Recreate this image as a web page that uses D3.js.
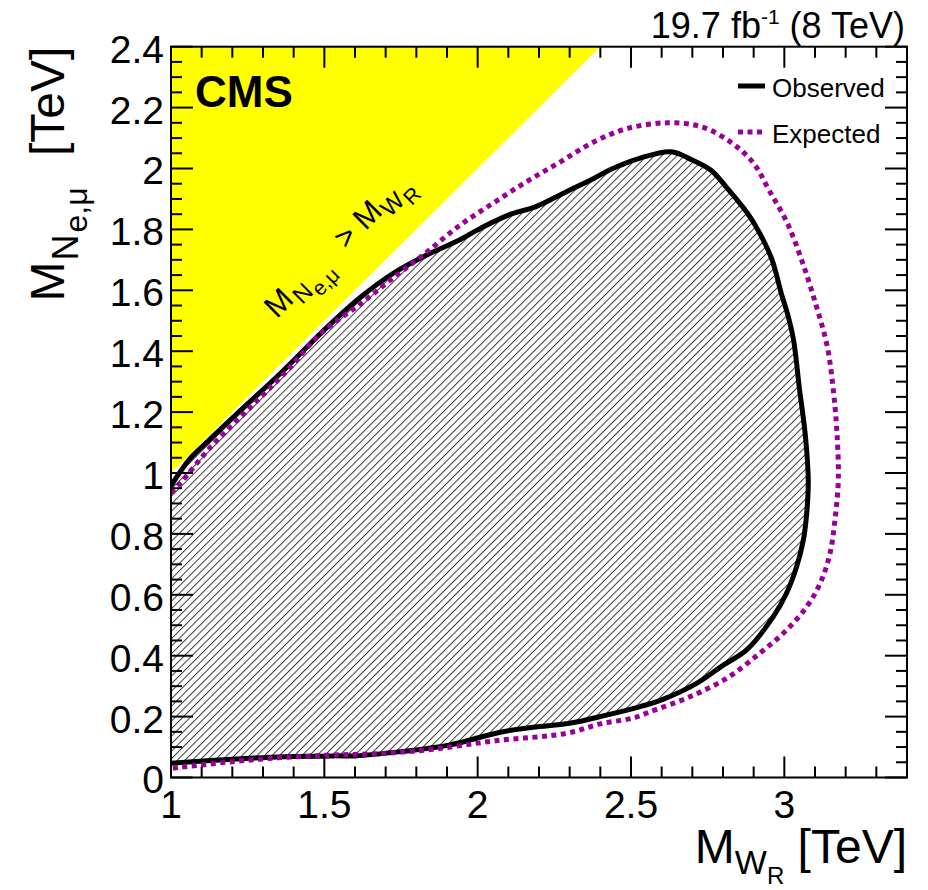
<!DOCTYPE html>
<html>
<head>
<meta charset="utf-8">
<script src="https://cdn.jsdelivr.net/npm/d3@7"></script>
<style>
  html, body { margin: 0; padding: 0; background: #fff; }
  svg { display: block; font-family: "Liberation Sans", Arial, Helvetica, sans-serif; }
</style>
</head>
<body>
<svg id="chart" width="928" height="890"></svg>
<script>
// --- data (TeV) ---
const xDomain = [1, 3.4];
const yDomain = [0, 2.4];
const xTickVals = [1, 1.5, 2, 2.5, 3];
const xTickLabels = ["1", "1.5", "2", "2.5", "3"];
const yTickVals = [0, 0.2, 0.4, 0.6, 0.8, 1, 1.2, 1.4, 1.6, 1.8, 2, 2.2, 2.4];
const yTickLabels = ["0", "0.2", "0.4", "0.6", "0.8", "1", "1.2", "1.4", "1.6", "1.8", "2", "2.2", "2.4"];

// kinematically forbidden region M_N > M_WR
const forbidden = [[1, 1], [2.4, 2.4], [1, 2.4]];

const observed = [
  [1.0, 0.958], [1.06, 1.045], [1.12, 1.104], [1.24, 1.218], [1.36, 1.33], [1.51, 1.48],
  [1.62, 1.579], [1.725, 1.656], [1.834, 1.716], [1.93, 1.76], [2.01, 1.804], [2.10, 1.847],
  [2.19, 1.875], [2.29, 1.924], [2.38, 1.968], [2.43, 1.995], [2.53, 2.034], [2.63, 2.055],
  [2.70, 2.028], [2.76, 1.995], [2.81, 1.940], [2.88, 1.853], [2.92, 1.787], [2.96, 1.700],
  [2.99, 1.590], [3.01, 1.524], [3.03, 1.437], [3.05, 1.27], [3.06, 1.196], [3.07, 1.108],
  [3.078, 0.977], [3.073, 0.868], [3.062, 0.780], [3.040, 0.692], [3.007, 0.605], [2.964, 0.528],
  [2.877, 0.419], [2.801, 0.369], [2.714, 0.309], [2.60, 0.255], [2.53, 0.233], [2.42, 0.205],
  [2.30, 0.178], [2.18, 0.165], [2.07, 0.148], [1.91, 0.107], [1.75, 0.085], [1.60, 0.071],
  [1.53, 0.071], [1.37, 0.068], [1.20, 0.060], [1.0, 0.047]
];

const expected = [
  [1.0, 0.935], [1.03, 0.966], [1.13, 1.086], [1.25, 1.207], [1.37, 1.327], [1.49, 1.459],
  [1.62, 1.557], [1.73, 1.645], [1.83, 1.722], [1.94, 1.812], [2.05, 1.886], [2.16, 1.957],
  [2.27, 2.022], [2.38, 2.088], [2.49, 2.132], [2.62, 2.150], [2.73, 2.137], [2.83, 2.083],
  [2.90, 2.017], [2.95, 1.929], [3.01, 1.820], [3.06, 1.689], [3.105, 1.546], [3.14, 1.415],
  [3.16, 1.27], [3.171, 1.141], [3.176, 0.977], [3.165, 0.846], [3.149, 0.736], [3.117, 0.638],
  [3.073, 0.561], [3.007, 0.484], [2.920, 0.408], [2.812, 0.326], [2.692, 0.265], [2.56, 0.215],
  [2.51, 0.196], [2.40, 0.176], [2.29, 0.145], [2.06, 0.121], [1.855, 0.093], [1.69, 0.079],
  [1.53, 0.074], [1.37, 0.066], [1.20, 0.052], [1.0, 0.030]
];

const W = 928, H = 890;
const m = { left: 171, right: 907, top: 46.7, bottom: 777.5 };
const purple = "#990099";

const svg = d3.select("#chart");
const x = d3.scaleLinear().domain(xDomain).range([m.left, m.right]);
const y = d3.scaleLinear().domain(yDomain).range([m.bottom, m.top]);

const defs = svg.append("defs");
defs.append("clipPath").attr("id", "frame-clip")
  .append("rect").attr("x", m.left).attr("y", m.top)
  .attr("width", m.right - m.left).attr("height", m.bottom - m.top);
defs.append("pattern").attr("id", "hatch").attr("patternUnits", "userSpaceOnUse")
  .attr("width", 5.3).attr("height", 10).attr("patternTransform", "rotate(45)")
  .append("line").attr("x1", 0.5).attr("x2", 0.5).attr("y1", 0).attr("y2", 10)
  .attr("stroke", "#000").attr("stroke-width", 0.8);

const plot = svg.append("g").attr("clip-path", "url(#frame-clip)");
const line = d3.line().x(d => x(d[0])).y(d => y(d[1]));
const smooth = d3.line().x(d => x(d[0])).y(d => y(d[1])).curve(d3.curveCatmullRom.alpha(0.5));

// yellow triangle
plot.append("path").datum(forbidden).attr("d", d => line(d) + "Z").attr("fill", "#ffff00");

// excluded region (hatched)
plot.append("path").datum(observed).attr("d", d => smooth(d) + "Z").attr("fill", "url(#hatch)");

plot.append("path").datum(observed).attr("d", smooth)
  .attr("fill", "none").attr("stroke", "#000").attr("stroke-width", 5).attr("stroke-linejoin", "round");

plot.append("path").datum(expected).attr("d", smooth)
  .attr("fill", "none").attr("stroke", purple).attr("stroke-width", 5).attr("stroke-dasharray", "5,4.5");

// label along the diagonal
const lab = svg.append("text")
  .attr("transform", `translate(${x(1.345)},${y(1.505)}) rotate(-44.8)`)
  .attr("font-size", 31).attr("fill", "#000");
lab.append("tspan").text("M");
lab.append("tspan").attr("font-size", 24).attr("dx", 2).attr("dy", 8).text("N");
lab.append("tspan").attr("font-size", 21).attr("dx", 1).attr("dy", 7).text("e,μ");
lab.append("tspan").attr("dx", 22).attr("dy", -15).text(">");
lab.append("tspan").attr("dx", 9).text("M");
lab.append("tspan").attr("font-size", 24).attr("dx", 1).attr("dy", 8).text("W");
lab.append("tspan").attr("font-size", 21).attr("dx", 1).attr("dy", 7).text("R");

// CMS
svg.append("text").attr("x", 195).attr("y", 107).attr("font-size", 44)
  .attr("font-weight", "bold").text("CMS");

// frame
svg.append("rect").attr("x", m.left).attr("y", m.top)
  .attr("width", m.right - m.left).attr("height", m.bottom - m.top)
  .attr("fill", "none").attr("stroke", "#000").attr("stroke-width", 2);

// ticks: major and minor, on all four sides
const xMinor = d3.range(10, 35).map(v => v / 10).filter(v => !xTickVals.includes(v));
const yMinor = d3.range(0, 49).map(v => v / 20).filter(v => !yTickVals.some(t => Math.abs(t - v) < 1e-9));
const ticks = svg.append("g").attr("stroke", "#000").attr("stroke-width", 2);
[[xTickVals, 21], [xMinor, 11]].forEach(([vals, len]) => {
  ticks.selectAll(null).data(vals).join("line")
    .attr("x1", d => x(d)).attr("x2", d => x(d)).attr("y1", m.bottom).attr("y2", m.bottom - len);
  ticks.selectAll(null).data(vals).join("line")
    .attr("x1", d => x(d)).attr("x2", d => x(d)).attr("y1", m.top).attr("y2", m.top + len);
});
[[yTickVals, 22], [yMinor, 11]].forEach(([vals, len]) => {
  ticks.selectAll(null).data(vals).join("line")
    .attr("y1", d => y(d)).attr("y2", d => y(d)).attr("x1", m.left).attr("x2", m.left + len);
  ticks.selectAll(null).data(vals).join("line")
    .attr("y1", d => y(d)).attr("y2", d => y(d)).attr("x1", m.right).attr("x2", m.right - len);
});

// tick labels
svg.append("g").selectAll("text").data(xTickVals).join("text")
  .attr("x", d => x(d)).attr("y", 818).attr("text-anchor", "middle").attr("font-size", 39)
  .text((d, i) => xTickLabels[i]);
svg.append("g").selectAll("text").data(yTickVals).join("text")
  .attr("x", 164).attr("y", d => y(d)).attr("dy", "0.41em").attr("text-anchor", "end").attr("font-size", 39)
  .text((d, i) => yTickLabels[i]);

// axis titles
const xt = svg.append("text").attr("x", m.right).attr("y", 863).attr("text-anchor", "end").attr("font-size", 48);
xt.append("tspan").text("M");
xt.append("tspan").attr("font-size", 34).attr("dy", 11).text("W");
xt.append("tspan").attr("font-size", 24).attr("dy", 10).text("R");
xt.append("tspan").attr("dy", -21).text(" [TeV]");

const yt = svg.append("text").attr("transform", `translate(64,${m.top}) rotate(-90)`)
  .attr("text-anchor", "end").attr("font-size", 48);
yt.append("tspan").text("M");
yt.append("tspan").attr("font-size", 36).attr("dx", 1).attr("dy", 14).text("N");
yt.append("tspan").attr("font-size", 32).attr("dx", 2).attr("dy", 9).text("e,μ");
yt.append("tspan").attr("dx", 18).attr("dy", -23).text(" [TeV]");

// luminosity label
const lumi = svg.append("text").attr("x", 905).attr("y", 38).attr("text-anchor", "end").attr("font-size", 36);
lumi.append("tspan").text("19.7 fb");
lumi.append("tspan").attr("font-size", 21).attr("dy", -14).text("-1");
lumi.append("tspan").attr("dy", 14).text(" (8 TeV)");

// legend
const legend = [
  { label: "Observed", color: "#000", dash: null, y: 86 },
  { label: "Expected", color: purple, dash: "5,4.5", y: 132 }
];
const lg = svg.append("g");
lg.selectAll("line").data(legend).join("line")
  .attr("x1", 738).attr("x2", 765).attr("y1", d => d.y).attr("y2", d => d.y)
  .attr("stroke", d => d.color).attr("stroke-width", 5).attr("stroke-dasharray", d => d.dash);
lg.selectAll("text").data(legend).join("text")
  .attr("x", 772).attr("y", d => d.y + 10.5).attr("font-size", 26).text(d => d.label);
</script>
</body>
</html>
